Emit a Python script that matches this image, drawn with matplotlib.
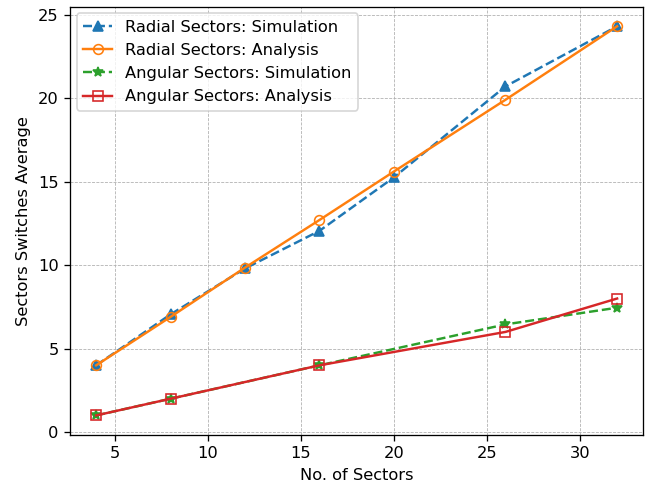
import numpy as np
import matplotlib.pyplot as plt

# number of sectors
sectors = [4, 8, 12, 16, 20, 26, 32]
radial_sim = [4.0, 7.05, 9.8, 12.05, 15.25, 20.7, 24.3]
radial_ana = [4.0, 6.9, 9.85, 12.7, 15.6, 19.9, 24.3]

sectors_ang = [4, 8, 16, 26, 32]
angular_sim = [1.0, 2.0, 4.0, 6.45, 7.45]
angular_ana = [1.0, 2.0, 4.0, 6.0, 8.0]

dpi = 117
fig = plt.figure(figsize=(649 / dpi, 487 / dpi), dpi=dpi)
ax = plt.gca()
ax.plot(sectors, radial_sim, '--^', color='tab:blue', label='Radial Sectors: Simulation')
ax.plot(sectors, radial_ana, '-o', color='tab:orange', mfc='none', label='Radial Sectors: Analysis')
ax.plot(sectors_ang, angular_sim, '--*', color='tab:green', label='Angular Sectors: Simulation')
ax.plot(sectors_ang, angular_ana, '-s', color='tab:red', mfc='none', label='Angular Sectors: Analysis')

ax.set_xlabel('No. of Sectors')
ax.set_ylabel('Sectors Switches Average')
ax.grid(True, linestyle='--', linewidth=0.5)
ax.legend(loc='upper left', handlelength=1.8, borderaxespad=0.4)
plt.subplots_adjust(left=0.108, right=0.991, top=0.986, bottom=0.107)
plt.savefig('out.png', dpi=dpi)
